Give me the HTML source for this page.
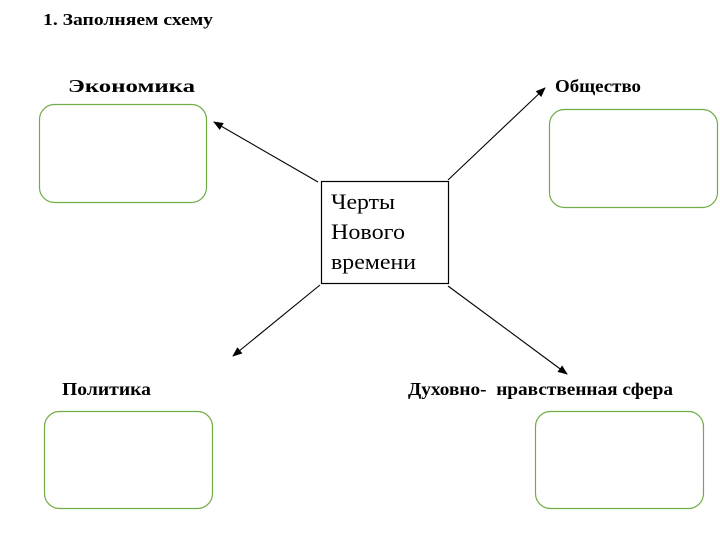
<!DOCTYPE html>
<html><head><meta charset="utf-8"><style>
html,body{margin:0;padding:0;background:#fff;width:720px;height:550px;overflow:hidden}
</style></head><body>
<svg width="720" height="550" xmlns="http://www.w3.org/2000/svg" font-family="'Liberation Serif','DejaVu Serif',serif">
<defs><marker id="a" markerWidth="10" markerHeight="8" refX="9" refY="4" orient="auto" markerUnits="userSpaceOnUse"><path d="M0,0 L10,4 L0,8 z" fill="#000"/></marker></defs>
<text x="43" y="25" font-size="17" font-weight="bold" textLength="170" lengthAdjust="spacingAndGlyphs">1.  Заполняем схему</text>
<text x="68" y="92" font-size="18" font-weight="bold" textLength="127" lengthAdjust="spacingAndGlyphs">Экономика</text>
<text x="555" y="92" font-size="18" font-weight="bold" textLength="86" lengthAdjust="spacingAndGlyphs">Общество</text>
<text x="62" y="395" font-size="18" font-weight="bold" textLength="89" lengthAdjust="spacingAndGlyphs">Политика</text>
<text x="408" y="395" font-size="18" font-weight="bold" xml:space="preserve" textLength="265" lengthAdjust="spacingAndGlyphs">Духовно-  нравственная сфера</text>
<g fill="none" stroke="#70ad47" stroke-width="1.2">
<rect x="39.5" y="104.5" width="167" height="98" rx="15"/>
<rect x="549.5" y="109.5" width="168" height="98" rx="15"/>
<rect x="44.5" y="411.5" width="168" height="97" rx="15"/>
<rect x="535.5" y="411.5" width="168" height="97" rx="15"/>
</g>
<rect x="321.5" y="181.5" width="127" height="102" fill="#fff" stroke="#000" stroke-width="1.2"/>
<text x="331" y="209" font-size="22" textLength="64" lengthAdjust="spacingAndGlyphs">Черты</text>
<text x="331" y="239" font-size="22" textLength="74" lengthAdjust="spacingAndGlyphs">Нового</text>
<text x="331" y="269" font-size="22" textLength="85" lengthAdjust="spacingAndGlyphs">времени</text>
<g stroke="#000" stroke-width="1.1">
<line x1="318" y1="182" x2="214" y2="122" marker-end="url(#a)"/>
<line x1="448" y1="180" x2="545" y2="88" marker-end="url(#a)"/>
<line x1="320" y1="285" x2="233" y2="356" marker-end="url(#a)"/>
<line x1="448" y1="286" x2="567" y2="374" marker-end="url(#a)"/>
</g>
</svg>
</body></html>
